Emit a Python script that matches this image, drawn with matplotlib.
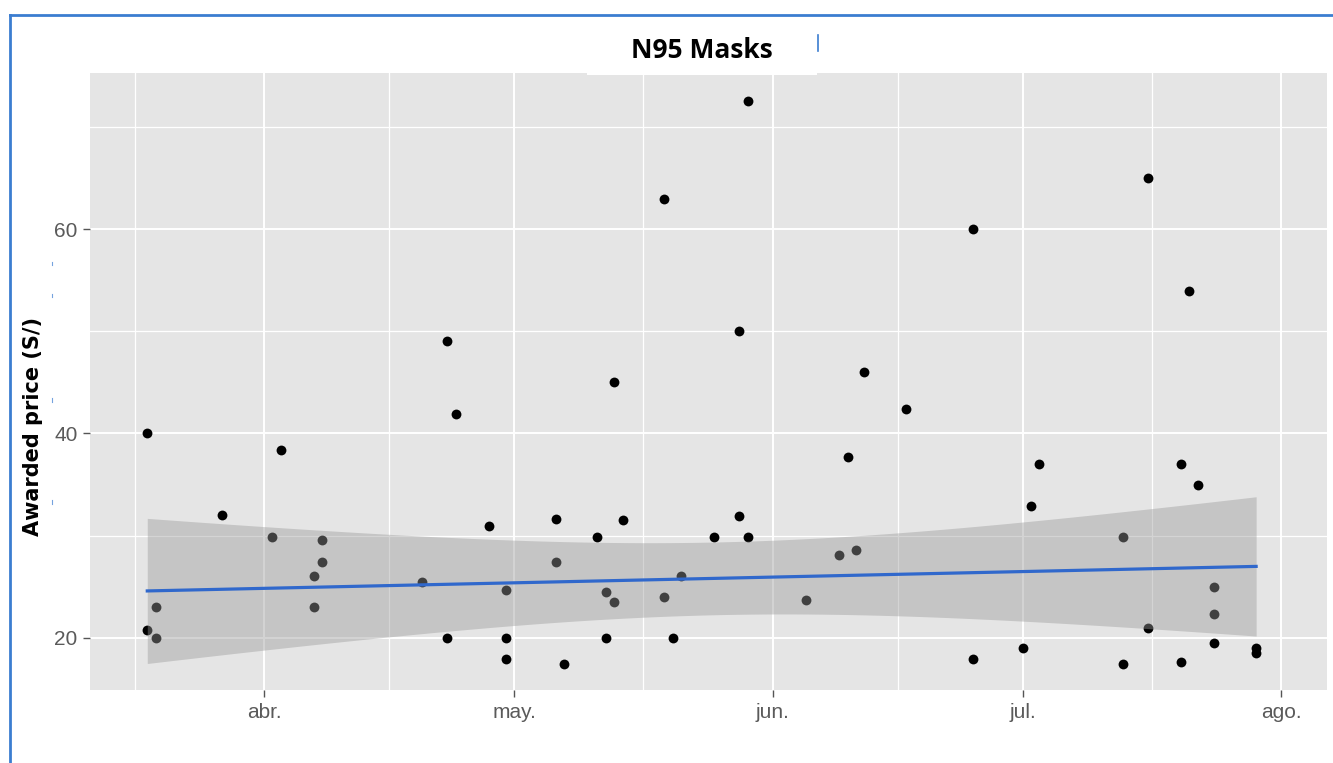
import numpy as np
import matplotlib
matplotlib.use('Agg')
import matplotlib.pyplot as plt
import matplotlib.dates as mdates
from matplotlib.patches import Rectangle
from matplotlib.lines import Line2D

# Fecha de adjudicación de cada compra de mascarillas N95
fechas = ['2020-03-18', '2020-03-18', '2020-03-19', '2020-03-19', '2020-03-27',
          '2020-04-02', '2020-04-03', '2020-04-07', '2020-04-07', '2020-04-08',
          '2020-04-08', '2020-04-20', '2020-04-23', '2020-04-23', '2020-04-24',
          '2020-04-28', '2020-04-30', '2020-04-30', '2020-04-30', '2020-05-06',
          '2020-05-06', '2020-05-07', '2020-05-11', '2020-05-12', '2020-05-12',
          '2020-05-13', '2020-05-13', '2020-05-14', '2020-05-19', '2020-05-19',
          '2020-05-20', '2020-05-21', '2020-05-25', '2020-05-28', '2020-05-28',
          '2020-05-29', '2020-05-29', '2020-06-05', '2020-06-09', '2020-06-10',
          '2020-06-11', '2020-06-12', '2020-06-17', '2020-06-25', '2020-06-25',
          '2020-07-01', '2020-07-02', '2020-07-03', '2020-07-13', '2020-07-13',
          '2020-07-16', '2020-07-16', '2020-07-20', '2020-07-20', '2020-07-21',
          '2020-07-22', '2020-07-24', '2020-07-24', '2020-07-24', '2020-07-29',
          '2020-07-29']

# Precio adjudicado por unidad (S/)
precios = [40.0, 20.8, 23.0, 20.0, 32.0,
           29.9, 38.4, 26.1, 23.0, 29.6,
           27.4, 25.5, 49.0, 20.0, 41.9,
           31.0, 24.7, 20.0, 17.9, 31.6,
           27.4, 17.5, 29.9, 24.5, 20.0,
           45.0, 23.5, 31.5, 62.9, 24.0,
           20.0, 26.1, 29.9, 50.0, 31.9,
           72.5, 29.9, 23.7, 28.1, 37.7,
           28.6, 46.0, 42.4, 60.0, 17.9,
           19.0, 32.9, 37.0, 29.9, 17.5,
           21.0, 65.0, 37.0, 17.6, 53.9,
           35.0, 25.0, 22.3, 19.5, 19.0,
           18.5]

# Tendencia (S/) al inicio y al final del periodo
tendencia = [24.6, 27.0]

meses = ['2020-03-01', '2020-04-01', '2020-05-01', '2020-06-01',
         '2020-07-01', '2020-08-01', '2020-09-01']
etiquetas_meses = ['mar.', 'abr.', 'may.', 'jun.', 'jul.', 'ago.', 'sep.']

x = mdates.datestr2num(fechas)
y = np.array(precios)
x_meses = mdates.datestr2num(meses)

# Banda de confianza del 95 % alrededor de la tendencia
n = len(x)
y_tend = np.interp(x, [x.min(), x.max()], tendencia)
s = np.sqrt(np.sum((y - y_tend) ** 2) / (n - 2))
sxx = np.sum((x - x.mean()) ** 2)
t = 2.001
x_fit = np.linspace(x.min(), x.max(), 80)
y_fit = np.interp(x_fit, [x.min(), x.max()], tendencia)
se_fit = s * np.sqrt(1 / n + (x_fit - x.mean()) ** 2 / sxx)

W, H = 1333, 763
fig = plt.figure(figsize=(W / 100, H / 100), dpi=100)
ax = fig.add_axes([90 / W, 1 - 690 / H, (1327 - 90) / W, (690 - 72.7) / H])
ax.set_facecolor('#E5E5E5')
for sp in ax.spines.values():
    sp.set_visible(False)

ax.scatter(x, y, s=50, color='black', linewidths=0, zorder=3)
ax.fill_between(x_fit, y_fit - t * se_fit, y_fit + t * se_fit,
                color='#999999', alpha=0.42, linewidth=0, zorder=4)
ax.plot(x_fit, y_fit, color='#3068CC', lw=2.3, zorder=5)

ax.set_xticks(x_meses)
ax.set_xticklabels(etiquetas_meses)
ax.set_xticks((x_meses[:-1] + x_meses[1:]) / 2, minor=True)
ax.set_yticks([20, 40, 60])
ax.set_yticks([30, 50, 70], minor=True)

abril = mdates.datestr2num('2020-04-01')
ax.set_xlim(abril - 20.87, abril + 127.5)
ax.set_ylim(14.91, 75.29)

ax.set_axisbelow(True)
ax.grid(which='major', color='white', lw=1.4)
ax.grid(which='minor', color='white', lw=0.9)
ax.tick_params(which='major', length=5, width=1, color='#555555',
               labelsize=15, labelcolor='#5A5A5A', pad=4)
ax.tick_params(which='minor', length=0)
for lbl in ax.get_xticklabels() + ax.get_yticklabels():
    lbl.set_family('Liberation Sans')

# Marco azul y caja blanca del título
azul = '#3B7DD0'
fig.add_artist(Line2D([10 / W, 1], [1 - 14.5 / H] * 2, color=azul, lw=2))
fig.add_artist(Line2D([10 / W] * 2, [0, 1 - 14.5 / H], color=azul, lw=2))
fig.add_artist(Rectangle((587 / W, 1 - 75 / H), (817 - 587) / W, (75 - 28) / H,
                         transform=fig.transFigure, facecolor='white',
                         edgecolor='none', zorder=5))
fig.add_artist(Line2D([818 / W] * 2, [1 - 35 / H, 1 - 51 / H], color=azul,
                      lw=1.2, zorder=6))
for yy in [263, 295, 400, 502]:
    fig.add_artist(Line2D([52 / W] * 2, [1 - (yy - 1.5) / H, 1 - (yy + 1.5) / H],
                          color=azul, lw=0.8, alpha=0.7))

fig.text(702 / W, 1 - 50 / H, 'N95 Masks', ha='center', va='center',
         fontsize=19, fontweight='bold', family='Open Sans', zorder=7)
fig.text(33 / W, 1 - 427 / H, 'Awarded price (S/)', ha='center', va='center',
         rotation=90, fontsize=15, fontweight='bold', family='DejaVu Sans')

fig.savefig('out.png', dpi=100)
